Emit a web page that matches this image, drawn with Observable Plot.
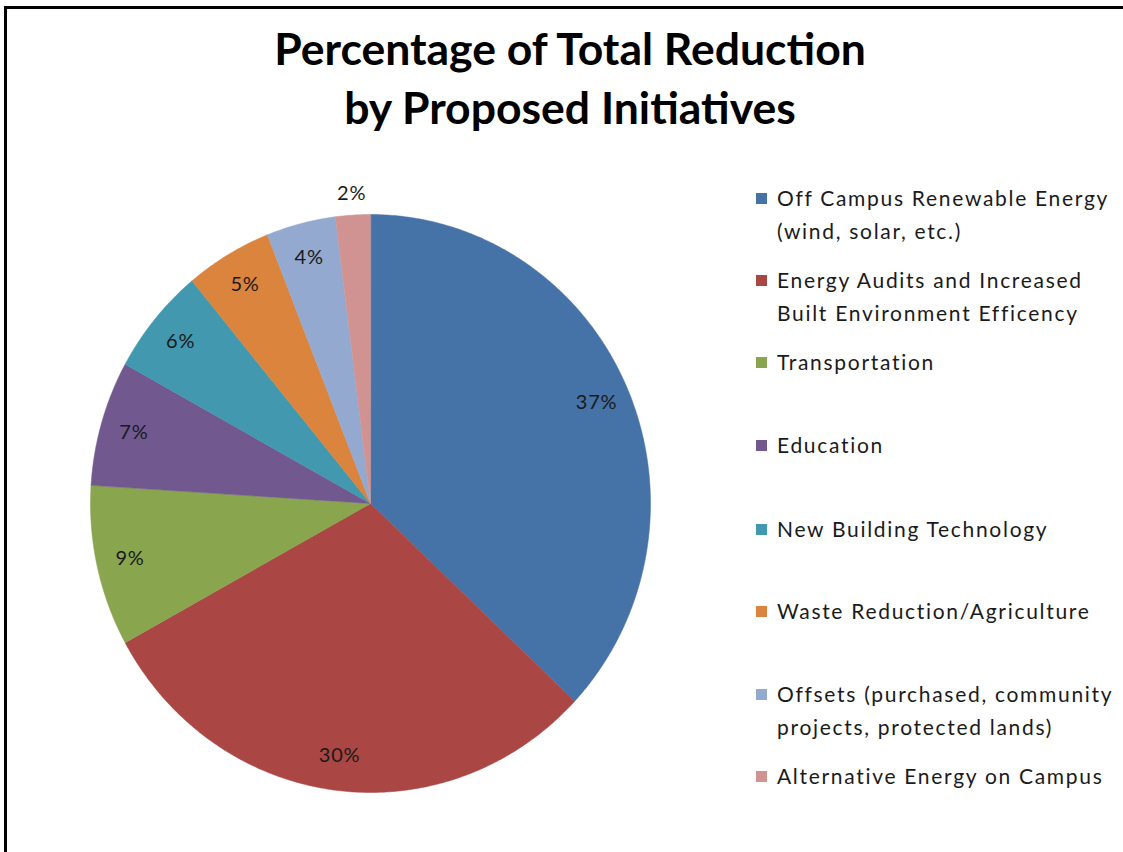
<!DOCTYPE html>
<html>
<head>
<meta charset="utf-8">
<script src="https://cdn.jsdelivr.net/npm/d3@7"></script>
<script src="https://cdn.jsdelivr.net/npm/@observablehq/plot@0.6"></script>
<style>
  html, body { margin: 0; padding: 0; background: #fff; }
  #page { position: relative; width: 1123px; height: 852px; overflow: hidden; font-family: Lato, "Open Sans", sans-serif; }
  #frame { position: absolute; left: 4px; top: 6px; width: 1200px; height: 900px; border-left: 3px solid #000; border-top: 3px solid #000; }
  #title { position: absolute; left: 0; top: 18px; width: 1140px; text-align: center; font-weight: bold; font-size: 44.5px; line-height: 59px; color: #000; }
  #chart { position: absolute; left: 0; top: 170px; }
  #chart text { letter-spacing: 0.8px; }
  #legend { position: absolute; left: 756px; top: 0; }
  .item { position: absolute; left: 0; white-space: nowrap; }
  .sw { position: absolute; left: 0; width: 11px; height: 11px; }
  .lab { position: absolute; left: 21px; font-size: 21px; line-height: 33px; color: #1a1a1a; letter-spacing: 1.7px; }
</style>
</head>
<body>
<div id="page">
  <div id="frame"></div>
  <div id="title">Percentage of Total Reduction<br>by Proposed Initiatives</div>
  <div id="chart"></div>
  <div id="legend"></div>
</div>
<script>
// ---- data ----
const categories = [
  "Off Campus Renewable Energy (wind, solar, etc.)",
  "Energy Audits and Increased Built Environment Efficency",
  "Transportation",
  "Education",
  "New Building Technology",
  "Waste Reduction/Agriculture",
  "Offsets (purchased, community projects, protected lands)",
  "Alternative Energy on Campus"
];
const legendLines = [
  ["Off Campus Renewable Energy", "(wind, solar, etc.)"],
  ["Energy Audits and Increased", "Built Environment Efficency"],
  ["Transportation"],
  ["Education"],
  ["New Building Technology"],
  ["Waste Reduction/Agriculture"],
  ["Offsets (purchased, community", "projects, protected lands)"],
  ["Alternative Energy on Campus"]
];
const values = [37, 30, 9, 7, 6, 5, 4, 2];
const colors = ["#4572A7", "#AA4643", "#89A54E", "#71588F", "#4198AF", "#DB843D", "#93A9CF", "#D19392"];
const legendTops = [181, 263, 345, 428, 512, 594, 677, 759];

// ---- build pie geometry from values ----
const total = d3.sum(values);
const ends = d3.cumsum(values);
const slices = values.map((v, i) => ({
  name: categories[i],
  value: v,
  a0: (ends[i] - v) / total * 2 * Math.PI,
  a1: ends[i] / total * 2 * Math.PI
}));
const outline = [];
for (const s of slices) {
  outline.push({name: s.name, x: 0, y: 0});
  const n = Math.max(2, Math.ceil((s.a1 - s.a0) / (Math.PI / 360)));
  for (let k = 0; k <= n; ++k) {
    const a = s.a0 + (s.a1 - s.a0) * k / n;
    outline.push({name: s.name, x: Math.sin(a), y: Math.cos(a)});
  }
}
const labels = slices.map(s => {
  const a = (s.a0 + s.a1) / 2;
  const r = s.value < 3 ? 1.075 : 0.88;
  return {text: s.value + "%", x: r * Math.sin(a), y: r * Math.cos(a)};
});

const plot = Plot.plot({
  width: 1123,
  height: 682,
  margin: 0,
  x: {domain: [-1, 1], range: [90, 650], axis: null},
  y: {domain: [-1, 1], range: [622, 44], axis: null},
  color: {domain: categories, range: colors},
  style: {background: "transparent"},
  marks: [
    Plot.line(outline, {x: "x", y: "y", z: "name", fill: "name", stroke: "name", strokeWidth: 0.5, curve: "linear-closed"}),
    Plot.text(labels, {x: "x", y: "y", text: "text", fontSize: 20, fill: "#1a1a1a", fontFamily: "Lato, 'Open Sans', sans-serif"})
  ]
});
document.getElementById("chart").appendChild(plot);

const leg = document.getElementById("legend");
categories.forEach((c, i) => {
  const item = document.createElement("div");
  item.className = "item";
  item.style.top = legendTops[i] + "px";
  const sw = document.createElement("div");
  sw.className = "sw";
  sw.style.background = colors[i];
  sw.style.top = "12px";
  item.appendChild(sw);
  const lab = document.createElement("div");
  lab.className = "lab";
  lab.innerHTML = legendLines[i].join("<br>");
  item.appendChild(lab);
  leg.appendChild(item);
});
</script>
</body>
</html>
